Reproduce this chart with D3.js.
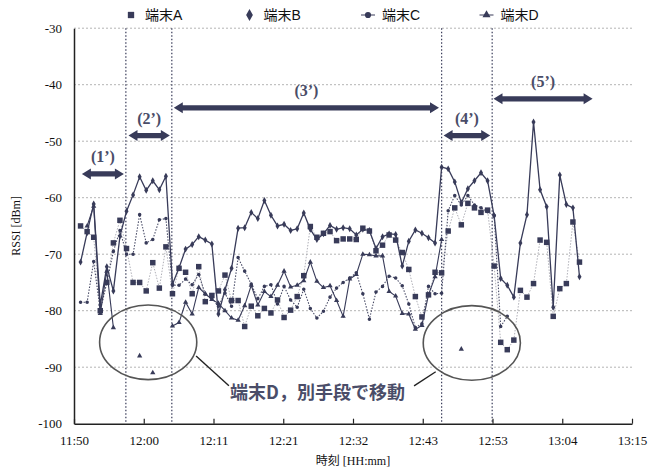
<!DOCTYPE html>
<html>
<head>
<meta charset="utf-8">
<script src="https://cdn.jsdelivr.net/npm/d3@7"></script>
<style>
  body { margin: 0; background: #fff; }
  #chart { width: 662px; height: 472px; }
</style>
</head>
<body>
<div id="chart"></div>
<script>
// minutes after 11:50, one sample per minute
const minutes = d3.range(1, 78);

const rssiA = [-65, -66, -67, -80, -75, -68, -64, -69, -75, -75,
  -76.5, -71.5, -76, -68.7, -77, -72.5, -73.2, -77, -72.2, -78.4,
  -77.3, -76.5, -73.7, -78.2, -78.2, -82.8, -79.2, -80.9, -79.6, -80.4,
  -78.1, -81.2, -79.9, -77.5, -73.8, -65.1, -67, -66.3, -66, -67.6,
  -67.3, -67.3, -67.4, -65.4, -65.9, -69.4, -68.4, -66.6, -67.5, -69.7,
  -72.7, -77.5, -81.1, -77.2, -73.2, -73.3, -65.9, -61.8, -64.8, -61,
  -61.8, -62.6, -62.2, -72.1, -85.6, -86.9, -85.2, -76.4, -77.6, -75.2,
  -67.5, -67.9, -81, -76.1, -75.2, -64.3, -71.4];

const rssiB = [-71.4, -66.2, -61.1, -79, -72.2, -76.5, -66.8, -62.4, -59.5, -56.3,
  -58.7, -57, -58.6, -56.2, -75.3, -72.4, -69.1, -68.3, -66.9, -67.5,
  -68.2, -80.6, -76.3, -72.5, -65.4, -65.3, -62.6, -63.7, -60.5, -63.1,
  -65, -64.7, -65.8, -65.5, -62.7, -65.6, -67.4, -66.4, -64.9, -65.6,
  -65.3, -65.5, -66.6, -65.6, -65.8, -69, -66.9, -66.4, -66.5, -72.1,
  -67.7, -65.7, -66.3, -67.1, -68, -54.6, -54.9, -57.2, -60.9, -58.4,
  -57, -55.6, -57, -63.2, -74.3, -75.5, -77.6, -68, -63, -46.6,
  -58.6, -61.6, -79.4, -56, -61.2, -61.8, -74];

const rssiC = [-78.5, -78.5, -71.3, -80, -75, -69.5, -65.8, -70, -70, -63,
  -68, -67.4, -63.9, -63.7, -75.5, -75.5, -74.4, -75.4, -73.6, -77.1,
  -77.8, -79.2, -76.9, -79.2, -70.6, -73, -75.3, -77.9, -75.7, -75.4,
  -78.8, -75.7, -78.1, -79.4, -76.2, -79.6, -81.3, -80.1, -77.6, -76,
  -75, -74.2, -73.3, -77, -81.5, -76.7, -75.7, -73.9, -74.2, -75.6,
  -78.8, -83, -82.3, -75.7, -77, -76.9, -62.3, -59.6, -61.3, -59.6,
  -61.3, -61.8, -62.5, -63.1, -82.8, -81];

// gaps = terminal D travelling by other means
const rssiD = [null, -65, -61.5, -80.5, -73, -83, null, null, null, -88,
  null, -91, null, null, -82.7, -82.1, -78.5, -80.6, -75.9, -77,
  -78, -78.7, -80, -81.3, -81.7, -79.1, -75.5, -79, -76.6, -77.5,
  -75.5, -73, -75.8, -75.5, -74.7, -71.4, -74.8, -75.9, -75.6, -78.2,
  -81, -74.4, -73.6, -70, -70.1, -70.3, -70.3, -76.6, -77.4, -80.5,
  -80.6, -83.3, -82.6, -77.2, -74, -67.4, null, null, -86.8];

const seriesNames = ['端末A', '端末B', '端末C', '端末D'];
const xTickLabels = ['11:50', '12:00', '12:11', '12:21', '12:32', '12:43', '12:53', '13:04', '13:15'];
const yTicks = [-30, -40, -50, -60, -70, -80, -90, -100];

// phase boundaries (minutes) and phase arrows [from, to, dBm level]
const phaseBounds = [7.9, 14.9, 56.0, 63.7];
const phaseLabels = ['(1’)', '(2’)', '(3’)', '(4’)', '(5’)'];
const phaseSpans = [[1.2, 7.6, -55.8], [8.3, 14.6, -49], [15.2, 55.6, -44.1], [56.3, 63.4, -49], [63.9, 79, -42.5]];

// circled areas where D is separated [centre minute, centre dBm]
const circleCentres = [[11.3, -85.6], [60.6, -85.7]];
const calloutText = '端末D，別手段で移動';

const INK = '#383b59';

class RssiChart {
  constructor(container) {
    this.width = 662;
    this.height = 472;
    this.margin = { top: 28.2, right: 30, bottom: 48.3, left: 74 };
    this.svg = d3.select(container).append('svg')
      .attr('width', this.width)
      .attr('height', this.height);
    this.setupScales();
    this.drawGrid();
    this.drawAxes();
    this.drawSeries();
    this.drawAnnotations();
    this.drawLegend();
  }

  setupScales() {
    const m = this.margin;
    this.x = d3.scaleLinear().domain([0, 85]).range([m.left, this.width - m.right]);
    this.y = d3.scaleLinear().domain([-100, -30]).range([this.height - m.bottom, m.top]);
  }

  drawGrid() {
    const g = this.svg.append('g').attr('class', 'grid');
    g.selectAll('line.h')
      .data(yTicks.filter(v => v > -100))
      .join('line')
      .attr('class', 'h')
      .attr('x1', this.x(0)).attr('x2', this.x(85))
      .attr('y1', d => this.y(d)).attr('y2', d => this.y(d))
      .attr('stroke', '#b4b4b4')
      .attr('stroke-width', 1)
      .attr('stroke-dasharray', '2,2');

    g.selectAll('line.v')
      .data(phaseBounds)
      .join('line')
      .attr('class', 'v')
      .attr('x1', d => this.x(d)).attr('x2', d => this.x(d))
      .attr('y1', this.y(-30)).attr('y2', this.y(-100))
      .attr('stroke', INK)
      .attr('stroke-width', 1.2)
      .attr('stroke-dasharray', '1.5,2');
  }

  drawAxes() {
    const xTicks = d3.range(9).map(i => i * 85 / 8);
    const xAxis = d3.axisBottom(this.x)
      .tickValues(xTicks)
      .tickSizeInner(-5)
      .tickSizeOuter(0)
      .tickPadding(12)
      .tickFormat((d, i) => xTickLabels[i]);
    const yAxis = d3.axisLeft(this.y)
      .tickValues(yTicks)
      .tickSizeInner(0)
      .tickSizeOuter(0)
      .tickPadding(12)
      .tickFormat(d => d);

    const gx = this.svg.append('g')
      .attr('transform', `translate(0,${this.y(-100)})`)
      .call(xAxis);
    const gy = this.svg.append('g')
      .attr('transform', `translate(${this.x(0)},0)`)
      .call(yAxis);

    [gx, gy].forEach(g => {
      g.select('.domain').attr('stroke', '#222').attr('stroke-width', 1.5);
      g.selectAll('.tick line').attr('stroke', '#222').attr('stroke-width', 1.2);
      g.selectAll('.tick text')
        .attr('fill', '#111')
        .style('font-family', '"Liberation Serif", serif')
        .style('font-size', '13px');
    });

    this.svg.append('text')
      .attr('x', (this.x(0) + this.x(85)) / 2)
      .attr('y', 465)
      .attr('text-anchor', 'middle')
      .style('font-family', '"Liberation Serif", "Noto Sans CJK JP", serif')
      .style('font-size', '12px')
      .attr('fill', '#111')
      .text('時刻 [HH:mm]');

    this.svg.append('text')
      .attr('transform', `translate(20,${(this.y(-30) + this.y(-100)) / 2}) rotate(-90)`)
      .attr('text-anchor', 'middle')
      .style('font-family', '"Liberation Serif", serif')
      .style('font-size', '12px')
      .attr('fill', '#111')
      .text('RSSI [dBm]');
  }

  seriesConfig() {
    return [
      { name: seriesNames[0], values: rssiA, line: '#b0b0b8', dash: '1.5,1.5', width: 1, symbol: d3.symbolSquare, size: 30 },
      { name: seriesNames[1], values: rssiB, line: INK, dash: null, width: 1.3, symbol: d3.symbolDiamond, size: 14 },
      { name: seriesNames[2], values: rssiC, line: '#4a4d68', dash: '1.5,1.5', width: 1.1, symbol: d3.symbolCircle, size: 10 },
      { name: seriesNames[3], values: rssiD, line: INK, dash: null, width: 1.1, symbol: d3.symbolTriangle, size: 12 }
    ];
  }

  drawSeries() {
    const line = d3.line()
      .defined(d => d.v !== null)
      .x(d => this.x(d.t))
      .y(d => this.y(d.v));

    const configs = this.seriesConfig();
    configs.forEach(cfg => {
      cfg.points = cfg.values.map((v, i) => ({ t: minutes[i], v: v }));
    });

    const lines = this.svg.append('g').attr('class', 'lines');
    configs.forEach(cfg => {
      lines.append('path')
        .datum(cfg.points)
        .attr('fill', 'none')
        .attr('stroke', cfg.line)
        .attr('stroke-width', cfg.width)
        .attr('stroke-dasharray', cfg.dash)
        .attr('d', line);
    });

    const marks = this.svg.append('g').attr('class', 'markers');
    configs.forEach(cfg => {
      marks.append('g')
        .selectAll('path')
        .data(cfg.points.filter(d => d.v !== null))
        .join('path')
        .attr('transform', d => `translate(${this.x(d.t)},${this.y(d.v)})`)
        .attr('d', d3.symbol(cfg.symbol, cfg.size))
        .attr('fill', INK);
    });
  }

  drawAnnotations() {
    const g = this.svg.append('g').attr('class', 'annotations');
    const pxPerMin = this.x(1) - this.x(0);
    const pxPerDb = this.y(-60) - this.y(-59);

    // double-headed phase arrows
    phaseSpans.forEach((s, i) => {
      const x1 = this.x(s[0]), x2 = this.x(s[1]), yy = this.y(s[2]);
      const head = 9, hw = 5.5, sw = 2.6;
      const path = `M${x1},${yy} L${x1 + head},${yy - hw} L${x1 + head},${yy - sw} L${x2 - head},${yy - sw} L${x2 - head},${yy - hw} L${x2},${yy} L${x2 - head},${yy + hw} L${x2 - head},${yy + sw} L${x1 + head},${yy + sw} L${x1 + head},${yy + hw} Z`;
      g.append('path').attr('d', path).attr('fill', INK);
      g.append('text')
        .attr('x', (x1 + x2) / 2)
        .attr('y', yy - 12)
        .attr('text-anchor', 'middle')
        .style('font-family', '"Liberation Serif", serif')
        .style('font-size', '16px')
        .style('font-weight', 'bold')
        .attr('fill', '#4a4d68')
        .text(phaseLabels[i]);
    });

    // ellipses around terminal D's separated samples
    g.selectAll('ellipse')
      .data(circleCentres)
      .join('ellipse')
      .attr('cx', d => this.x(d[0]))
      .attr('cy', d => this.y(d[1]))
      .attr('rx', 7.4 * pxPerMin)
      .attr('ry', 6.6 * pxPerDb)
      .attr('fill', 'none')
      .attr('stroke', '#555')
      .attr('stroke-width', 1.6);

    const leaders = [[[18.6, -88.0], [23.6, -93.3]], [[55.1, -90.8], [51.8, -93.3]]];
    leaders.forEach(l => {
      g.append('line')
        .attr('x1', this.x(l[0][0])).attr('y1', this.y(l[0][1]))
        .attr('x2', this.x(l[1][0])).attr('y2', this.y(l[1][1]))
        .attr('stroke', '#222')
        .attr('stroke-width', 1.4);
    });

    g.append('text')
      .attr('x', this.x(37.1))
      .attr('y', this.y(-95.7))
      .attr('text-anchor', 'middle')
      .style('font-family', '"Noto Sans CJK JP", sans-serif')
      .style('font-size', '18px')
      .style('font-weight', 'bold')
      .attr('fill', '#4a4d68')
      .text(calloutText);
  }

  drawLegend() {
    const symbols = [d3.symbolSquare, d3.symbolDiamond, d3.symbolCircle, d3.symbolTriangle];
    const sizes = [40, 40, 30, 28];
    const item = this.svg.append('g').attr('class', 'legend')
      .selectAll('g')
      .data(seriesNames)
      .join('g')
      .attr('transform', (d, i) => `translate(${131 + i * 118.5},15)`);
    item.filter((d, i) => i >= 2)
      .append('line')
      .attr('x1', -7).attr('x2', 7)
      .attr('stroke', INK)
      .attr('stroke-width', 1);
    item.append('path')
      .attr('d', (d, i) => d3.symbol(symbols[i], sizes[i])())
      .attr('fill', INK);
    item.append('text')
      .attr('x', 14)
      .attr('dy', '0.35em')
      .style('font-family', '"Liberation Sans", "Noto Sans CJK JP", sans-serif')
      .style('font-size', '14px')
      .attr('fill', '#111')
      .text(d => d);
  }
}

window.rssiChart = new RssiChart('#chart');
</script>
</body>
</html>
